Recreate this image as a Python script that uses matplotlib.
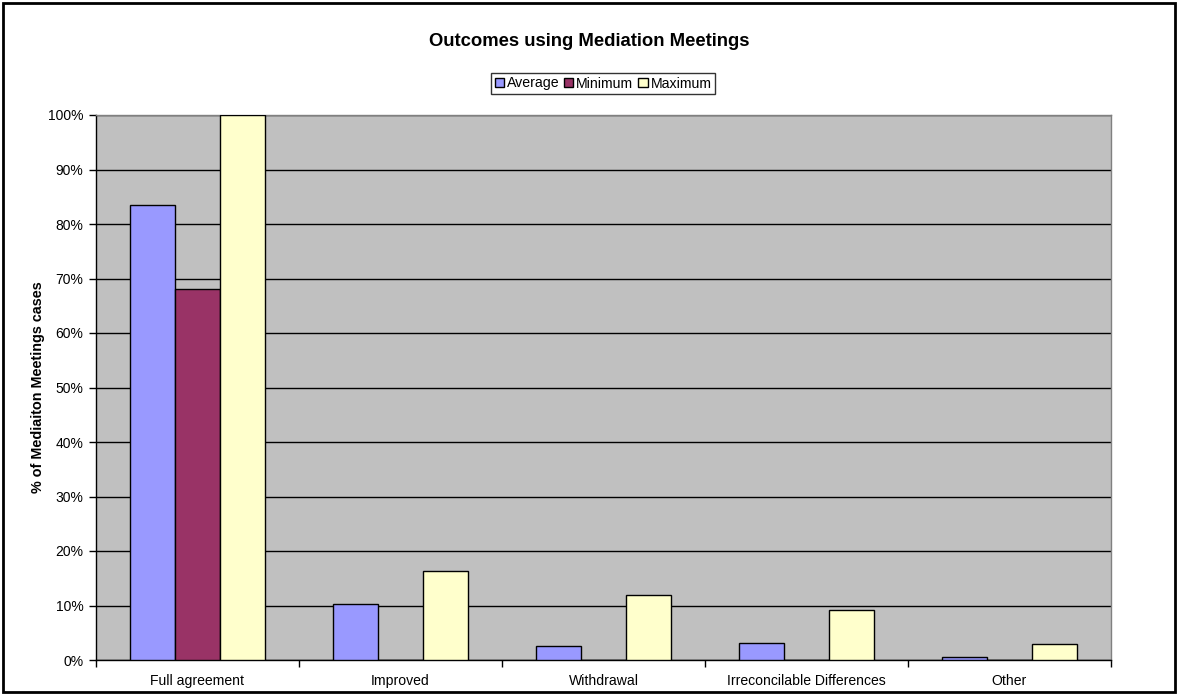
import matplotlib
matplotlib.use("Agg")
import matplotlib.pyplot as plt
import numpy as np
from matplotlib.patches import Rectangle
from matplotlib.ticker import PercentFormatter, FixedLocator

plt.rcParams['font.family'] = ['Liberation Sans', 'DejaVu Sans']

categories = ["Full agreement", "Improved", "Withdrawal", "Irreconcilable Differences", "Other"]
average = [83.5, 10.2, 2.5, 3.1, 0.6]
minimum = [68.0, 0.0, 0.0, 0.0, 0.0]
maximum = [100.0, 16.4, 12.0, 9.1, 2.9]
series_names = ["Average", "Minimum", "Maximum"]
colors = ["#9999FF", "#993366", "#FFFFCC"]

W, H = 1178, 695
fig = plt.figure(figsize=(W / 100, H / 100), dpi=100)
ax = fig.add_axes([96 / W, 1 - 660 / H, (1111 - 96) / W, (660 - 115) / H])
ax.set_facecolor("#C0C0C0")

x = np.arange(len(categories))
bw = 0.222
for i, (vals, name, c) in enumerate(zip([average, minimum, maximum], series_names, colors)):
    ax.bar(x + (i - 1) * bw, vals, width=bw, color=c, edgecolor="black", linewidth=1, label=name, zorder=3)

ax.set_xlim(-0.5, len(categories) - 0.5)
ax.set_ylim(0, 100)
ax.set_yticks(np.arange(0, 101, 10))
ax.yaxis.set_major_formatter(PercentFormatter(decimals=0))
ax.yaxis.grid(True, color="black", linewidth=1, zorder=1)
ax.set_axisbelow(True)

ax.set_xticks(x)
ax.set_xticklabels(categories, fontsize=10.1)
ax.tick_params(axis='x', which='major', length=0, pad=10)
ax.xaxis.set_minor_locator(FixedLocator(np.arange(-0.5, len(categories), 1.0)))
ax.tick_params(axis='x', which='minor', length=5, width=1, color="black")
ax.tick_params(axis='y', length=5, width=1, labelsize=10, color="black", pad=4)

for s in ["left", "bottom"]:
    ax.spines[s].set_color("black")
    ax.spines[s].set_linewidth(1)
for s in ["top", "right"]:
    ax.spines[s].set_color("#808080")
    ax.spines[s].set_linewidth(1)

ax.set_ylabel("% of Mediaiton Meetings cases", fontsize=10.4, fontweight="bold", labelpad=2)

fig.text(0.5, 1 - 42 / H, "Outcomes using Mediation Meetings", ha="center", va="center",
         fontsize=13.3, fontweight="bold")

leg = fig.legend(loc="center", bbox_to_anchor=(603 / W, 1 - 83.5 / H), ncol=3, fontsize=10.2,
                 frameon=True, fancybox=False, edgecolor="black", handlelength=0.65,
                 handleheight=0.65, handletextpad=0.2, columnspacing=0.35, borderpad=0.25,
                 borderaxespad=0)
leg.get_frame().set_linewidth(1)

fig.patches.append(Rectangle((3 / W, 3 / H), 1 - 6 / W, 1 - 6 / H, transform=fig.transFigure,
                             fill=False, edgecolor="black", linewidth=2))

fig.savefig("out.png", dpi=100)
